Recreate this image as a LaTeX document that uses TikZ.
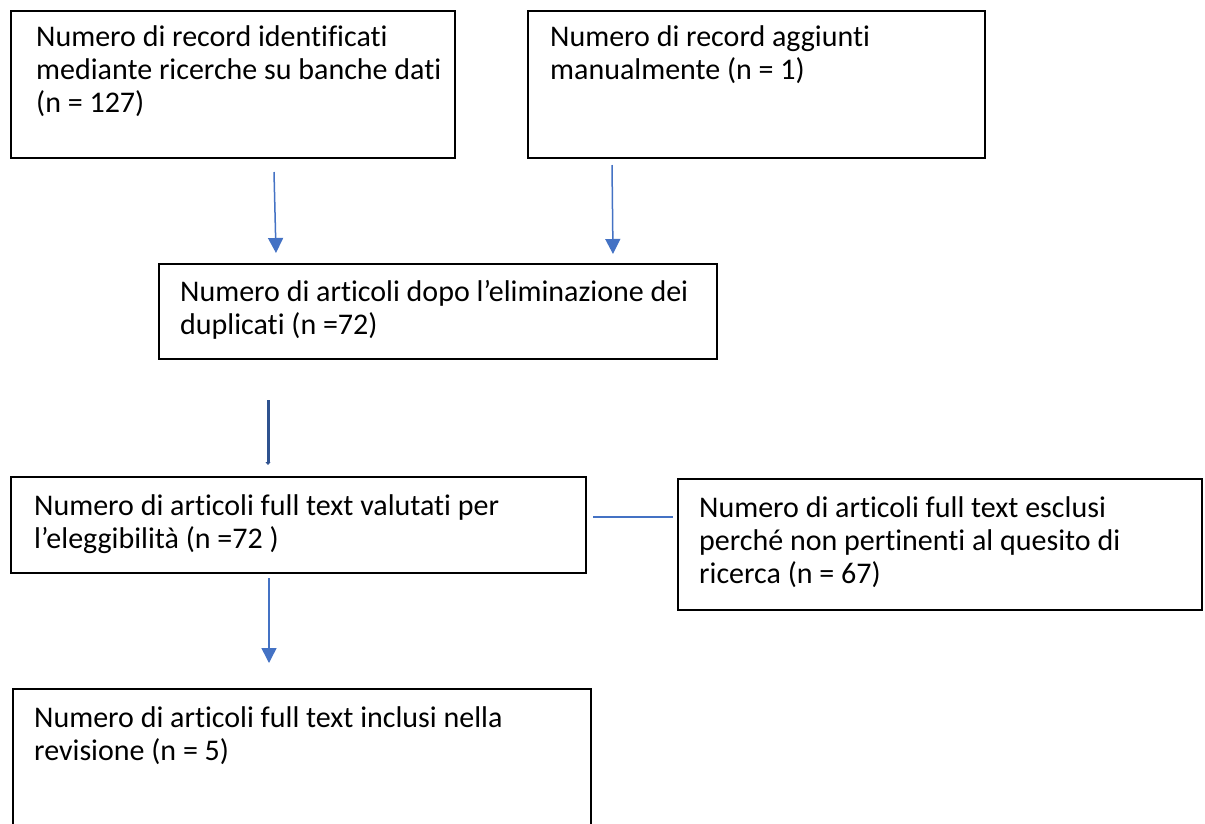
\documentclass[tikz,border=0pt]{standalone}
\usepackage{fontspec}
\setmainfont[Ligatures={NoCommon}]{Carlito}
\usetikzlibrary{arrows.meta}
\definecolor{arrowblue}{HTML}{4472C4}
\definecolor{darkblue}{HTML}{2F528F}
\begin{document}
\begin{tikzpicture}[x=1pt,y=-1pt,
  box/.style={draw=black, line width=1.5pt, anchor=north west, inner sep=0pt},
  txt/.style={anchor=north west, align=left, inner sep=0pt, font=\fontsize{30}{33.3}\selectfont},
  arr/.style={draw=arrowblue, line width=1.5pt, -{Triangle[length=15pt,width=15pt]}},
  thickarr/.style={draw=darkblue, line width=3pt, -{Triangle[length=3pt,width=5pt]}},
  link/.style={draw=arrowblue, line width=1.5pt}]
\useasboundingbox (0,0) rectangle (1205,823);
\fill[white] (0,0) rectangle (1205,823);
% boxes
\node[box, minimum width=444pt, minimum height=147pt] (b1) at (10,10) {};
\node[box, minimum width=457pt, minimum height=147pt] (b2) at (527,10) {};
\node[box, minimum width=558pt, minimum height=95pt] (b3) at (158,263) {};
\node[box, minimum width=575pt, minimum height=96pt] (b4) at (10,476) {};
\node[box, minimum width=524pt, minimum height=131pt] (b5) at (677,478) {};
\node[box, minimum width=578pt, minimum height=140pt] (b6) at (12,688) {};
% texts
\node[txt] (t1) at (36,25) {Numero di record identificati\\mediante ricerche su banche dati\\(n = 127)};
\node[txt] (t2) at (550,25) {Numero di record aggiunti\\manualmente (n = 1)};
\node[txt] (t3) at (180,280) {Numero di articoli dopo l’eliminazione dei\\duplicati (n =72)};
\node[txt] (t4) at (34,494) {Numero di articoli full text valutati per\\l’eleggibilità (n =72 )};
\node[txt] (t5) at (699,496) {Numero di articoli full text esclusi\\perché non pertinenti al quesito di\\ricerca (n = 67)};
\node[txt] (t6) at (34,706) {Numero di articoli full text inclusi nella\\revisione (n = 5)};
% connectors
\coordinate (a1s) at (274,172);
\coordinate (a1e) at (276,253);
\coordinate (a2s) at (612,165);
\coordinate (a2e) at (613,254);
\coordinate (a3s) at (268,400);
\coordinate (a3e) at (268,465);
\coordinate (a4s) at (593,517);
\coordinate (a4e) at (673,517);
\coordinate (a5s) at (269,578);
\coordinate (a5e) at (269,663);
\draw[arr] (a1s) -- (a1e);
\draw[arr] (a2s) -- (a2e);
\draw[thickarr] (a3s) -- (a3e);
\draw[link] (a4s) -- (a4e);
\draw[arr] (a5s) -- (a5e);
\end{tikzpicture}
\end{document}
